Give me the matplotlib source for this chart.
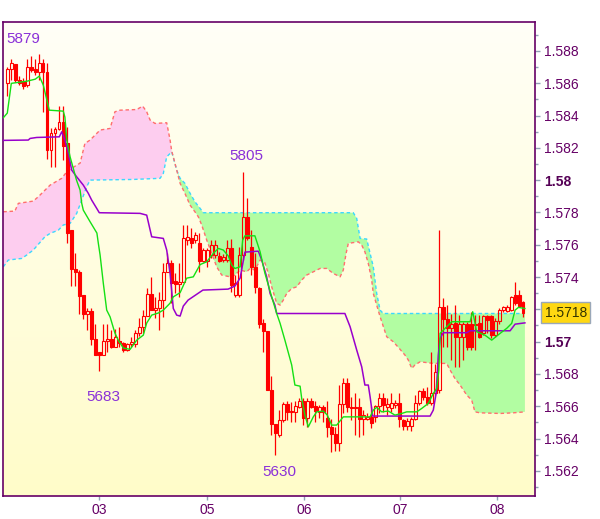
import numpy as np
import matplotlib
matplotlib.use('Agg')
import matplotlib.pyplot as plt
from matplotlib.colors import LinearSegmentedColormap
from matplotlib.ticker import FixedLocator, MultipleLocator

plt.rcParams['font.family'] = ['Liberation Sans', 'DejaVu Sans']

# hourly candles
opens = [
    1.58599, 1.58685, 1.58716, 1.58619, 1.58613, 1.58588, 1.58698, 1.58687, 1.58671, 1.58723,
    1.58671, 1.58186, 1.58289, 1.58314, 1.58357, 1.58227, 1.57690, 1.57447, 1.57428, 1.57288,
    1.57170, 1.57189, 1.57014, 1.56934, 1.56917, 1.57003, 1.57014, 1.56968, 1.57003, 1.56993,
    1.56948, 1.56985, 1.56985, 1.57051, 1.57092, 1.57159, 1.57294, 1.57195, 1.57209, 1.57257,
    1.57428, 1.57484, 1.57375, 1.57356, 1.57367, 1.57629, 1.57639, 1.57629, 1.57608, 1.57500,
    1.57500, 1.57536, 1.57536, 1.57530, 1.57505, 1.57505, 1.57577, 1.57288, 1.57288, 1.57536,
    1.57769, 1.57583, 1.57463, 1.57329, 1.57116, 1.57067, 1.56700, 1.56489, 1.56421, 1.56514,
    1.56611, 1.56562, 1.56565, 1.56596, 1.56632, 1.56530, 1.56632, 1.56601, 1.56562, 1.56596,
    1.56530, 1.56472, 1.56427, 1.56373, 1.56613, 1.56741, 1.56596, 1.56596, 1.56593, 1.56518,
    1.56518, 1.56534, 1.56534, 1.56601, 1.56648, 1.56596, 1.56586, 1.56607, 1.56617, 1.56514,
    1.56479, 1.56479, 1.56518, 1.56617, 1.56693, 1.56658, 1.56617, 1.56679, 1.56700, 1.57215,
    1.57143, 1.57082, 1.57116, 1.57026, 1.57026, 1.57108, 1.57108, 1.57102, 1.57116, 1.57051,
    1.57158, 1.57158, 1.57040, 1.57129, 1.57195, 1.57191, 1.57195, 1.57286, 1.57286, 1.57245,
]
highs = [
    1.58702, 1.58747, 1.58718, 1.58644, 1.58630, 1.58747, 1.58768, 1.58747, 1.58780, 1.58747,
    1.58723, 1.58324, 1.58330, 1.58458, 1.58458, 1.58326, 1.57690, 1.57546, 1.57442, 1.57288,
    1.57209, 1.57205, 1.57106, 1.56934, 1.57108, 1.57106, 1.57071, 1.57077, 1.57092, 1.56995,
    1.56991, 1.57028, 1.57071, 1.57145, 1.57195, 1.57331, 1.57401, 1.57277, 1.57308, 1.57484,
    1.57548, 1.57505, 1.57422, 1.57484, 1.57722, 1.57722, 1.57701, 1.57678, 1.57674, 1.57579,
    1.57579, 1.57629, 1.57629, 1.57554, 1.57542, 1.57629, 1.57633, 1.57412, 1.57587, 1.58051,
    1.57889, 1.57690, 1.57546, 1.57339, 1.57143, 1.57067, 1.56787, 1.56489, 1.56576, 1.56624,
    1.56632, 1.56627, 1.56632, 1.56648, 1.56652, 1.56648, 1.56648, 1.56632, 1.56607, 1.56607,
    1.56632, 1.56518, 1.56472, 1.56729, 1.56772, 1.56772, 1.56658, 1.56679, 1.56648, 1.56576,
    1.56555, 1.56601, 1.56607, 1.56679, 1.56679, 1.56648, 1.56679, 1.56638, 1.56679, 1.56520,
    1.56524, 1.56534, 1.56668, 1.56700, 1.56710, 1.56720, 1.56937, 1.56861, 1.57690, 1.57271,
    1.57226, 1.57174, 1.57226, 1.57164, 1.57120, 1.57120, 1.57185, 1.57164, 1.57164, 1.57164,
    1.57164, 1.57164, 1.57145, 1.57205, 1.57220, 1.57226, 1.57282, 1.57370, 1.57319, 1.57251,
]
lows = [
    1.58522, 1.58619, 1.58609, 1.58588, 1.58562, 1.58574, 1.58671, 1.58650, 1.58619, 1.58423,
    1.58128, 1.58079, 1.58082, 1.58310, 1.58124, 1.57612, 1.57344, 1.57344, 1.57170, 1.57143,
    1.57071, 1.56978, 1.56917, 1.56818, 1.56917, 1.56937, 1.56958, 1.56968, 1.56968, 1.56937,
    1.56942, 1.56968, 1.56968, 1.57034, 1.57051, 1.57159, 1.57195, 1.57145, 1.57071, 1.57153,
    1.57428, 1.57238, 1.57298, 1.57277, 1.57367, 1.57598, 1.57577, 1.57610, 1.57432, 1.57492,
    1.57463, 1.57517, 1.57517, 1.57492, 1.57492, 1.57492, 1.57308, 1.57277, 1.57277, 1.57505,
    1.57629, 1.57412, 1.57298, 1.57082, 1.56937, 1.56700, 1.56421, 1.56297, 1.56410, 1.56501,
    1.56514, 1.56503, 1.56503, 1.56586, 1.56483, 1.56472, 1.56586, 1.56503, 1.56524, 1.56503,
    1.56410, 1.56317, 1.56324, 1.56324, 1.56555, 1.56565, 1.56514, 1.56421, 1.56410, 1.56421,
    1.56514, 1.56462, 1.56503, 1.56555, 1.56565, 1.56545, 1.56565, 1.56588, 1.56472, 1.56452,
    1.56452, 1.56447, 1.56514, 1.56607, 1.56638, 1.56607, 1.56607, 1.56668, 1.56679, 1.56968,
    1.56968, 1.56886, 1.56844, 1.56844, 1.56886, 1.56948, 1.56948, 1.56948, 1.57020, 1.57040,
    1.57051, 1.57020, 1.57028, 1.57112, 1.57185, 1.57185, 1.57191, 1.57226, 1.57215, 1.57153,
]
closes = [
    1.58687, 1.58723, 1.58619, 1.58603, 1.58582, 1.58698, 1.58681, 1.58671, 1.58723, 1.58671,
    1.58186, 1.58289, 1.58314, 1.58357, 1.58212, 1.57674, 1.57451, 1.57428, 1.57282, 1.57170,
    1.57189, 1.57014, 1.56917, 1.56917, 1.57003, 1.57016, 1.56968, 1.57030, 1.56993, 1.56948,
    1.56985, 1.56997, 1.57053, 1.57092, 1.57159, 1.57294, 1.57195, 1.57209, 1.57257, 1.57428,
    1.57484, 1.57362, 1.57356, 1.57367, 1.57639, 1.57645, 1.57608, 1.57659, 1.57500, 1.57567,
    1.57567, 1.57598, 1.57598, 1.57500, 1.57525, 1.57577, 1.57350, 1.57360, 1.57536, 1.57769,
    1.57639, 1.57463, 1.57336, 1.57112, 1.57067, 1.56700, 1.56489, 1.56437, 1.56514, 1.56611,
    1.56562, 1.56570, 1.56601, 1.56632, 1.56530, 1.56632, 1.56596, 1.56570, 1.56596, 1.56562,
    1.56472, 1.56427, 1.56373, 1.56613, 1.56741, 1.56596, 1.56588, 1.56588, 1.56518, 1.56545,
    1.56534, 1.56497, 1.56601, 1.56648, 1.56607, 1.56613, 1.56617, 1.56621, 1.56518, 1.56479,
    1.56510, 1.56520, 1.56617, 1.56693, 1.56658, 1.56617, 1.56679, 1.56811, 1.57212, 1.57143,
    1.57082, 1.57108, 1.57026, 1.57108, 1.57108, 1.56968, 1.56968, 1.57112, 1.57030, 1.57158,
    1.57133, 1.57040, 1.57129, 1.57195, 1.57212, 1.57215, 1.57274, 1.57240, 1.57220, 1.57180,
]

# ichimoku lines (bar position, price)
tenkan_x = [-1, 0, 1, 5, 7, 8, 9, 10.5, 14, 14.4, 14.85, 15.7, 17.3, 18.2, 18.6, 19, 20.7,
            22.4, 22.75, 23.2, 24, 24.85, 25.7, 26.9, 27.75, 29, 30.7, 32.35, 34, 34.85, 36.1,
            37.75, 39, 40.7, 41.5, 43.2, 44.85, 46.5, 48.2, 49.85, 51.5, 52.75, 54, 55.25, 56.1,
            56.9, 58.2, 58.85, 59.4, 61.9, 63.2, 64.4, 66.1, 67.35, 68.2, 69.4, 71.1, 71.9, 73.2,
            73.6, 74.4, 75.25, 76.5, 77.35, 79, 80, 81.1, 82.35, 84, 90.7, 91.5, 92.35, 93.6,
            95.25, 96.9, 98.6, 99.85, 102.35, 103.6, 105.25, 106.5, 107.35, 107.9, 108.2, 109,
            110.25, 111.1, 115.7, 116.35, 117.35, 119.4, 121.1, 123.2, 124.85, 126.1, 126.95,
            127.8, 129.4]
tenkan = [1.58386, 1.58415, 1.58599, 1.58613, 1.58625, 1.58644, 1.58588, 1.58433, 1.58427,
          1.58390, 1.58248, 1.58144, 1.58000, 1.57938, 1.57857, 1.57814, 1.57742, 1.57672,
          1.57610, 1.57536, 1.57362, 1.57195, 1.57153, 1.57053, 1.57009, 1.56960, 1.56952,
          1.57009, 1.57040, 1.57115, 1.57164, 1.57177, 1.57195, 1.57238, 1.57277, 1.57303,
          1.57393, 1.57401, 1.57477, 1.57494, 1.57546, 1.57577, 1.57567, 1.57530, 1.57474,
          1.57453, 1.57463, 1.57629, 1.57655, 1.57655, 1.57556, 1.57424, 1.57277, 1.57174,
          1.57113, 1.57009, 1.56855, 1.56731, 1.56724, 1.56648, 1.56545, 1.56472, 1.56534,
          1.56565, 1.56570, 1.56545, 1.56483, 1.56483, 1.56534, 1.56534, 1.56576, 1.56593,
          1.56565, 1.56570, 1.56545, 1.56555, 1.56565, 1.56565, 1.56586, 1.56617, 1.56679,
          1.56710, 1.56824, 1.57051, 1.57071, 1.57102, 1.57123, 1.57123, 1.57185, 1.57061,
          1.57040, 1.57009, 1.57051, 1.57082, 1.57113, 1.57195, 1.57212, 1.57205]

kijun_x = [-1, 5.25, 5.7, 7.35, 13, 13.6, 14.4, 15.25, 16.1, 17.35, 19, 20.25, 21.1, 22.35, 23,
           33.2, 34.85, 36.1, 39, 39.85, 40.7, 41.5, 42.35, 43.2, 44, 45.2, 48.9, 55.2, 56.9,
           58.2, 59.4, 62.75, 63.6, 64.85, 65.7, 66.9, 67.35, 84.4, 85.7, 87.35, 88.6, 89.4,
           90.25, 90.7, 91.35, 105.7, 106.5, 107.2, 107.75, 108.2, 109, 114.85, 115.7, 125.7,
           126.95, 129.4]
kijun = [1.58246, 1.58248, 1.58258, 1.58264, 1.58268, 1.58299, 1.58248, 1.58167, 1.58062,
         1.58020, 1.57969, 1.57918, 1.57876, 1.57825, 1.57798, 1.57794, 1.57783, 1.57649,
         1.57639, 1.57567, 1.57422, 1.57205, 1.57164, 1.57158, 1.57220, 1.57257, 1.57319,
         1.57325, 1.57344, 1.57393, 1.57554, 1.57560, 1.57505, 1.57401, 1.57298, 1.57226,
         1.57174, 1.57174, 1.57092, 1.56948, 1.56844, 1.56731, 1.56731, 1.56658, 1.56539,
         1.56539, 1.56576, 1.56679, 1.56916, 1.57020, 1.57055, 1.57055, 1.57067, 1.57067,
         1.57108, 1.57116]

span_a_x = [-1, 0.25, 3.6, 4.85, 6.5, 9.4, 10.7, 12.75, 14, 15.7, 17.35, 18.6, 19.85, 20.7,
            31.4, 38.2, 39, 39.85, 41.1, 42.35, 43.2, 44.4, 45.7, 46.9, 48.2, 49, 86.5, 87.35,
            88.2, 89.85, 90.7, 91.5, 92.35, 93.2, 94, 129.4]
span_a = [1.57463, 1.57505, 1.57515, 1.57536, 1.57567, 1.57649, 1.57670, 1.57690, 1.57722,
          1.57732, 1.57794, 1.57876, 1.57959, 1.58000, 1.58004, 1.58011, 1.58041, 1.58144,
          1.58175, 1.58062, 1.58011, 1.57980, 1.57918, 1.57866, 1.57825, 1.57798, 1.57798,
          1.57763, 1.57639, 1.57635, 1.57546, 1.57463, 1.57298, 1.57195, 1.57174, 1.57174]

span_b_x = [-1, 1.9, 2.75, 6.5, 7.75, 10.7, 13.6, 14.85, 17.35, 18.2, 19.4, 20.7, 23.2, 25.7,
            26.9, 28.2, 32.35, 33.85, 34.85, 35.7, 36.9, 39.85, 40.7, 41.1, 41.5, 43.2, 44.4,
            45.7, 46.9, 47.75, 48.6, 49.85, 51.1, 52.35, 53.6, 55.7, 56.9, 58.2, 59.85, 60.7,
            61.9, 63.2, 64.4, 65.25, 66.1, 67.35, 68.2, 69, 69.85, 71.1, 72.35, 73.6, 74.85,
            76.5, 78.2, 79.85, 81.5, 83.2, 84, 84.7, 85.25, 87.75, 88.6, 89.4, 90.25, 91.1,
            91.5, 92.35, 93.2, 94.85, 96.5, 98.2, 99.4, 100.25, 101.1, 101.9, 103.2, 106.5,
            109.85, 110.7, 111.9, 113.2, 114.85, 116.1, 116.9, 118.2, 123.2, 126.5, 129.4]
span_b = [1.57804, 1.57808, 1.57856, 1.57870, 1.57897, 1.57969, 1.58011, 1.58051, 1.58093,
          1.58105, 1.58227, 1.58248, 1.58310, 1.58320, 1.58423, 1.58433, 1.58437, 1.58458,
          1.58423, 1.58372, 1.58351, 1.58355, 1.58248, 1.58180, 1.58144, 1.57980, 1.57918,
          1.57845, 1.57804, 1.57773, 1.57722, 1.57629, 1.57546, 1.57463, 1.57412, 1.57401,
          1.57412, 1.57443, 1.57432, 1.57453, 1.57443, 1.57505, 1.57488, 1.57422, 1.57339,
          1.57237, 1.57226, 1.57257, 1.57298, 1.57329, 1.57339, 1.57381, 1.57412, 1.57432,
          1.57453, 1.57453, 1.57422, 1.57401, 1.57443, 1.57546, 1.57608, 1.57618, 1.57598,
          1.57556, 1.57484, 1.57381, 1.57298, 1.57226, 1.57154, 1.57030, 1.56999, 1.56952,
          1.56917, 1.56886, 1.56834, 1.56855, 1.56875, 1.56865, 1.56865, 1.56824, 1.56772,
          1.56731, 1.56669, 1.56638, 1.56565, 1.56559, 1.56555, 1.56559, 1.56565]
kumo_twist = 41.1

day_ticks = [23, 50, 74.2, 98.2, 122.5]
day_labels = ['03', '05', '06', '07', '08']
price_ticks = [1.562, 1.564, 1.566, 1.568, 1.570, 1.572, 1.574, 1.576, 1.578,
               1.580, 1.582, 1.584, 1.586, 1.588]
# 1.572 sits under the last-price tag in the original
price_labels = ['1.562', '1.564', '1.566', '1.568', '1.57', '', '1.574', '1.576',
                '1.578', '1.58', '1.582', '1.584', '1.586', '1.588']
bold_labels = ['1.57', '1.58']

swing_labels = ['5879', '5805', '5683', '5630']
swing_bars = [8, 59, 23, 67]
last_label = '1.5718'

RED = '#ff0000'
AXC = '#660066'

fig = plt.figure(figsize=(6, 5.19), dpi=100)
ax = fig.add_axes([0.0055, 0.0437, 0.886, 0.9133])
ax.set_facecolor('none')

bg = LinearSegmentedColormap.from_list('bg', ['#fffff7', '#fffcc9'])
ax.imshow(np.linspace(0, 1, 256).reshape(-1, 1), cmap=bg, extent=(0, 1, 0, 1),
          transform=ax.transAxes, aspect='auto', zorder=0)

# cloud
sax = np.array(span_a_x); sa = np.array(span_a)
sbx = np.array(span_b_x); sb = np.array(span_b)
m_a = sax <= kumo_twist; m_b = sbx <= kumo_twist
ax.fill(np.concatenate([sax[m_a], sbx[m_b][::-1]]), np.concatenate([sa[m_a], sb[m_b][::-1]]),
        color='#fdcdef', lw=0, zorder=1)
m_a = sax >= kumo_twist; m_b = sbx >= kumo_twist
ax.fill(np.concatenate([sax[m_a], sbx[m_b][::-1]]), np.concatenate([sa[m_a], sb[m_b][::-1]]),
        color='#b2fda2', lw=0, zorder=1)
ax.plot(sax, sa, color='#3ad8ff', lw=1, ls=(0, (2.5, 2)), zorder=2)
ax.plot(sbx, sb, color='#ff6e6e', lw=1, ls=(0, (2.5, 2)), zorder=2)

# candles
o = np.array(opens); h = np.array(highs); l = np.array(lows); c = np.array(closes)
x = np.arange(len(c))
up = c >= o
lo = np.minimum(o, c); hi = np.maximum(o, c)
ax.vlines(x[~up], l[~up], h[~up], color=RED, lw=0.9, zorder=3)
ax.vlines(x[up], hi[up], h[up], color=RED, lw=0.9, zorder=3)
ax.vlines(x[up], l[up], lo[up], color=RED, lw=0.9, zorder=3)
ax.bar(x[~up], (hi - lo)[~up], bottom=lo[~up], width=0.6, color=RED, edgecolor=RED,
       lw=0.8, zorder=3)
ax.bar(x[up], (hi - lo)[up], bottom=lo[up], width=0.6, facecolor='none', edgecolor=RED,
       lw=0.8, zorder=3)

ax.plot(kijun_x, kijun, color='#9900cc', lw=1.1, zorder=4)
ax.plot(tenkan_x, tenkan, color='#14e014', lw=1.0, zorder=4)

# swing high / low labels
swing_px = [h[8], h[59], l[23], l[67]]
offs = [(-11.7, 8.1), (2.4, 8.4), (2.7, -21.6), (3.0, -15.1)]
for txt, b, p, off in zip(swing_labels, swing_bars, swing_px, offs):
    ax.annotate(txt, (b, p), xytext=off, textcoords='offset points', ha='center',
                va='baseline', fontsize=11, color='#8a30d8', zorder=6)

ax.set_xlim(-1.0, 131.9)
ax.set_ylim(1.56042, 1.58977)

ax.yaxis.tick_right()
ax.yaxis.set_major_locator(FixedLocator(price_ticks))
ax.yaxis.set_minor_locator(MultipleLocator(0.001))
ax.set_yticklabels(price_labels)
for t in ax.get_yticklabels():
    if t.get_text() in bold_labels:
        t.set_fontweight('bold')
        t.set_color('#550055')
ax.set_xticks(day_ticks)
ax.set_xticklabels(day_labels)
ax.tick_params(axis='both', which='both', direction='out', color='#8fa0b5',
               labelcolor=AXC, labelsize=10)
ax.tick_params(axis='y', which='major', length=3.5, width=1, pad=3)
ax.tick_params(axis='y', which='minor', length=2.5, width=1)
ax.tick_params(axis='x', which='major', length=3, width=1, pad=1.5)
for t in ax.get_yticklabels():
    if t.get_text() in bold_labels:
        t.set_fontweight('bold')
        t.set_color('#550055')
for s in ax.spines.values():
    s.set_color(AXC)
    s.set_linewidth(1.2)

# last price tag
ax.annotate(last_label, (1.0, c[-1]), xycoords=('axes fraction', 'data'),
            xytext=(7, 0), textcoords='offset points', ha='left', va='center',
            fontsize=10, color='#333300', annotation_clip=False, zorder=10,
            bbox=dict(boxstyle='square,pad=0.25', facecolor='#ffd812', edgecolor='#9aa8b8', lw=1))

fig.savefig('out.png', dpi=100)
